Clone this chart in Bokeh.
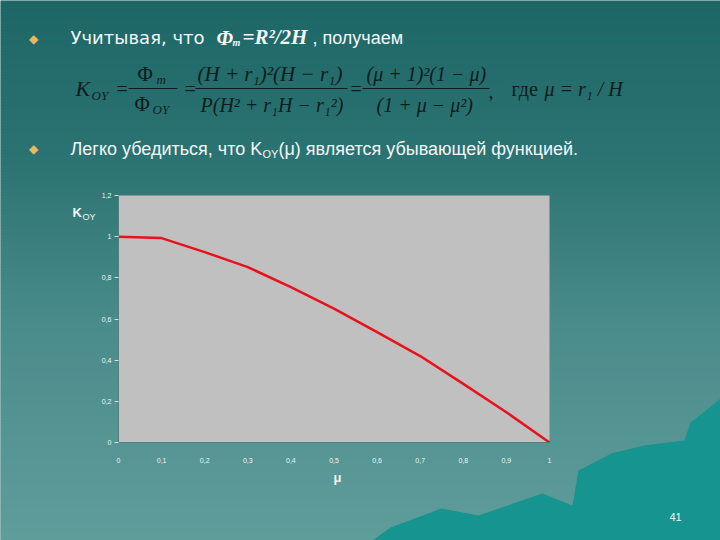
from bokeh.plotting import figure
from bokeh.models import Label, LinearAxis, FixedTicker, Range1d
from bokeh.embed import file_html
from bokeh.resources import INLINE

# ---- data ----
mu = [0.0, 0.1, 0.2, 0.3, 0.4, 0.5, 0.6, 0.7, 0.8, 0.9, 1.0]
k_oy = [1.0, 0.993, 0.925, 0.852, 0.755, 0.65, 0.536, 0.42, 0.285, 0.147, 0.0]
x_ticks = [0, 0.1, 0.2, 0.3, 0.4, 0.5, 0.6, 0.7, 0.8, 0.9, 1]
x_tick_labels = ["0", "0,1", "0,2", "0,3", "0,4", "0,5", "0,6", "0,7", "0,8", "0,9", "1"]
y_ticks = [0, 0.2, 0.4, 0.6, 0.8, 1, 1.2]
y_tick_labels = ["0", "0,2", "0,4", "0,6", "0,8", "1", "1,2"]
x_min, x_max = 0, 1
y_min, y_max = 0, 1.2

W, H = 720, 540
# chart frame on the slide (pixels)
FL, FR, FT, FB = 118, 549, 195, 442

p = figure(width=W, height=H, output_backend="svg", toolbar_location=None,
           x_range=Range1d(0, W), y_range=Range1d(H, 0),
           x_axis_type=None, y_axis_type=None, min_border=0)
p.outline_line_color = None
p.grid.visible = False
p.border_fill_color = "#5e9d9b"
p.background_fill_color = "#3f8180"

# chart ranges mapped so that the chart area lands on FL..FR, FT..FB
sx = (FR - FL) / (x_max - x_min)
sy = (FB - FT) / (y_max - y_min)
p.extra_x_ranges["chart"] = Range1d(x_min - FL / sx, x_min + (W - FL) / sx)
p.extra_y_ranges["chart"] = Range1d(y_min - (H - FB) / sy, y_min + FB / sy)

# ---- slide background: vertical teal gradient ----
stops = [(0.0, (30, 103, 103)), (0.3, (44, 116, 115)), (0.6, (74, 140, 139)), (1.0, (95, 157, 155))]


def grad(t):
    for (t0, c0), (t1, c1) in zip(stops[:-1], stops[1:]):
        if t <= t1:
            f = (t - t0) / (t1 - t0)
            return "#%02x%02x%02x" % tuple(int(round(a + (b - a) * f)) for a, b in zip(c0, c1))
    return "#%02x%02x%02x" % stops[-1][1]


step = 3
tops = list(range(0, H, step))
p.quad(left=0, right=W, top=tops, bottom=[t + step + 0.5 for t in tops],
       fill_color=[grad(t / H) for t in tops], line_color=None)

wave_x = [372, 390, 441, 478, 542, 572, 578, 611, 643, 684, 690, 703, 720, 730, 730, 372]
wave_y = [540, 527, 508, 515, 493, 505, 470, 453, 445, 440, 422, 412, 398, 398, 545, 545]
p.patch(wave_x, wave_y, fill_color="#16948f", line_color=None)

# ---- chart ----
p.quad(left=[x_min], right=[x_max], bottom=[y_min], top=[y_max], fill_color="#c0c0c0",
       line_color=None, x_range_name="chart", y_range_name="chart")
p.line(mu, k_oy, line_color="#e8121c", line_width=2.5, x_range_name="chart", y_range_name="chart")

xaxis = LinearAxis(x_range_name="chart", y_range_name="chart", fixed_location=y_min,
                   bounds=(x_min, x_max), ticker=FixedTicker(ticks=x_ticks),
                   major_label_overrides=dict(zip(x_ticks, x_tick_labels)))
yaxis = LinearAxis(x_range_name="chart", y_range_name="chart", fixed_location=x_min,
                   bounds=(y_min, y_max), ticker=FixedTicker(ticks=y_ticks),
                   major_label_overrides=dict(zip(y_ticks, y_tick_labels)))
for ax in (xaxis, yaxis):
    ax.major_label_text_font = "Liberation Sans"
    ax.major_label_text_font_size = "7px"
    ax.major_label_text_color = "#eef4f4"
    ax.minor_tick_line_color = None
    ax.axis_line_color = "#557f7e"
xaxis.major_tick_line_color = None
xaxis.major_label_standoff = 9
yaxis.major_tick_line_color = "#d5e2e1"
yaxis.major_tick_out = 4
yaxis.major_tick_in = 0
yaxis.major_label_standoff = 3
p.add_layout(xaxis, "below")
p.add_layout(yaxis, "left")


def lab(text, x, y, size, font="Liberation Sans", style="normal", color="#f2f6f6", align="left"):
    p.add_layout(Label(x=x, y=y, text=text,
                       text_font=font, text_font_size=f"{size}px", text_font_style=style,
                       text_color=color, text_baseline="middle", text_align=align))


INK = "#0d1c1c"
SER = "Liberation Serif"

# fraction bars
p.segment(x0=[128, 195, 362], x1=[177, 347, 489], y0=[88, 88, 88], y1=[88, 88, 88],
          line_color=INK, line_width=1.2)

# bullets
lab("\u25c6", 33, 38, 12, font="DejaVu Sans", color="#e9b95c", align="center")
lab("\u25c6", 33, 148, 12, font="DejaVu Sans", color="#e9b95c", align="center")

# first line
lab("Учитывая, что", 70, 37, 18, font="DejaVu Sans")
lab("Φ", 216, 37, 21, font=SER, style="bold italic")
lab("m", 232, 42, 10, font=SER, style="bold italic")
lab("=R²/2H", 242, 36, 21, font=SER, style="bold italic")
lab(", получаем", 312, 37, 18)

# formula
lab("K", 75, 88, 22, font=SER, style="italic", color=INK)
lab("OY", 91, 95, 13, font=SER, style="italic", color=INK)
lab("=", 116, 88, 20, font=SER, color=INK)
lab("Φ", 137, 73, 21, font=SER, color=INK)
lab("m", 156, 79, 13, font=SER, style="italic", color=INK)
lab("Φ", 134, 103, 21, font=SER, color=INK)
lab("OY", 152, 109, 13, font=SER, style="italic", color=INK)
lab("=", 184, 88, 20, font=SER, color=INK)
lab("(H + r\u2081)\u00b2(H \u2212 r\u2081)", 197, 73, 21, font=SER, style="italic", color=INK)
lab("P(H\u00b2 + r\u2081H \u2212 r\u2081\u00b2)", 200, 104, 20, font=SER, style="italic", color=INK)
lab("=", 350, 88, 20, font=SER, color=INK)
lab("(μ + 1)\u00b2(1 \u2212 μ)", 366, 73, 20, font=SER, style="italic", color=INK)
lab("(1 + μ \u2212 μ\u00b2)", 376, 104, 20, font=SER, style="italic", color=INK)
lab(",", 488, 90, 20, font=SER, color=INK)
lab("где", 511, 88, 20, font=SER, color=INK)
lab("μ = r\u2081 / H", 544, 88, 20, font=SER, style="italic", color=INK)

# second line
lab("Легко убедиться, что K", 70, 148, 18)
lab("OY", 262, 153, 11)
lab("(μ) является убывающей функцией.", 278, 148, 18)

# axis titles
lab("K", 72, 212, 13, style="bold")
lab("OY", 82, 216, 9)
lab("μ", 333, 477, 13, style="bold")

# page number
lab("41", 669, 516, 11)

open("out.html", "w").write(file_html(p, INLINE))
